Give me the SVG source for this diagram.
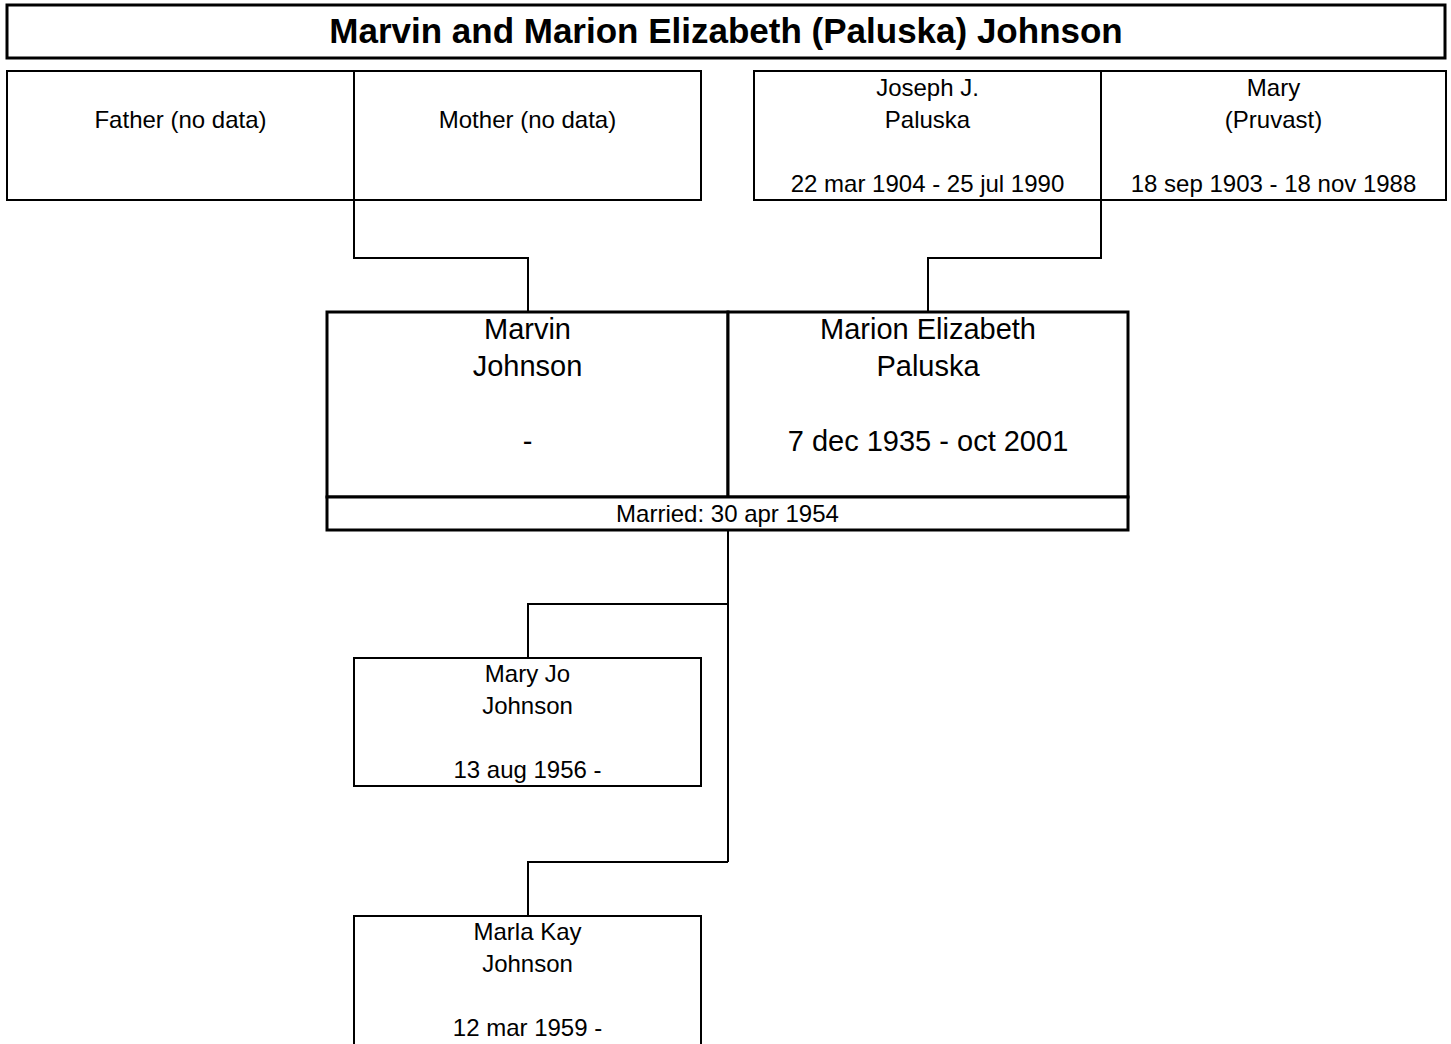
<svg xmlns="http://www.w3.org/2000/svg" width="1451" height="1044" viewBox="0 0 1451 1044">
<style>
  .box { fill: #fff; stroke: #000; stroke-width: 2; }
  .thick { fill: #fff; stroke: #000; stroke-width: 3; }
  .t { font-family: "Liberation Sans", Arial, sans-serif; font-size: 24px; fill: #000; text-anchor: middle; }
  .big { font-family: "Liberation Sans", Arial, sans-serif; font-size: 29px; fill: #000; text-anchor: middle; }
  .title { font-family: "Liberation Sans", Arial, sans-serif; font-size: 35px; font-weight: bold; fill: #000; text-anchor: middle; }
  .conn { fill: none; stroke: #000; stroke-width: 2; }
</style>
<rect width="1451" height="1044" fill="#fff"/>
<g id="title">
  <rect class="thick" x="7" y="5" width="1438" height="53"/>
  <text class="title" x="726" y="43">Marvin and Marion Elizabeth (Paluska) Johnson</text>
</g>
<g id="connectors">
  <polyline class="conn" points="354,200 354,258 528,258 528,312"/>
  <polyline class="conn" points="1101,200 1101,258 928,258 928,312"/>
  <polyline class="conn" points="728,530 728,862"/>
  <polyline class="conn" points="728,604 528,604 528,658"/>
  <polyline class="conn" points="728,862 528,862 528,916"/>
</g>
<g id="father">
  <rect class="box" x="7" y="71" width="347" height="129"/>
  <text class="t" x="180.5" y="128">Father (no data)</text>
</g>
<g id="mother">
  <rect class="box" x="354" y="71" width="347" height="129"/>
  <text class="t" x="527.5" y="128">Mother (no data)</text>
</g>
<g id="joseph">
  <rect class="box" x="754" y="71" width="347" height="129"/>
  <text class="t" x="927.5" y="96">Joseph J.</text>
  <text class="t" x="927.5" y="128">Paluska</text>
  <text class="t" x="927.5" y="192">22 mar 1904 - 25 jul 1990</text>
</g>
<g id="mary">
  <rect class="box" x="1101" y="71" width="345" height="129"/>
  <text class="t" x="1273.5" y="96">Mary</text>
  <text class="t" x="1273.5" y="128">(Pruvast)</text>
  <text class="t" x="1273.5" y="192">18 sep 1903 - 18 nov 1988</text>
</g>
<g id="marvin">
  <rect class="thick" x="327" y="312" width="401" height="185"/>
  <text class="big" x="527.5" y="339">Marvin</text>
  <text class="big" x="527.5" y="376">Johnson</text>
  <text class="big" x="527.5" y="451">-</text>
</g>
<g id="marion">
  <rect class="thick" x="728" y="312" width="400" height="185"/>
  <text class="big" x="928" y="339">Marion Elizabeth</text>
  <text class="big" x="928" y="376">Paluska</text>
  <text class="big" x="928" y="451">7 dec 1935 - oct 2001</text>
</g>
<g id="marriage">
  <rect class="thick" x="327" y="497" width="801" height="33"/>
  <text class="t" x="727.5" y="522">Married: 30 apr 1954</text>
</g>
<g id="maryjo">
  <rect class="box" x="354" y="658" width="347" height="128"/>
  <text class="t" x="527.5" y="682">Mary Jo</text>
  <text class="t" x="527.5" y="714">Johnson</text>
  <text class="t" x="527.5" y="778">13 aug 1956 -</text>
</g>
<g id="marlakay">
  <rect class="box" x="354" y="916" width="347" height="140"/>
  <text class="t" x="527.5" y="940">Marla Kay</text>
  <text class="t" x="527.5" y="972">Johnson</text>
  <text class="t" x="527.5" y="1036">12 mar 1959 -</text>
</g>
</svg>
